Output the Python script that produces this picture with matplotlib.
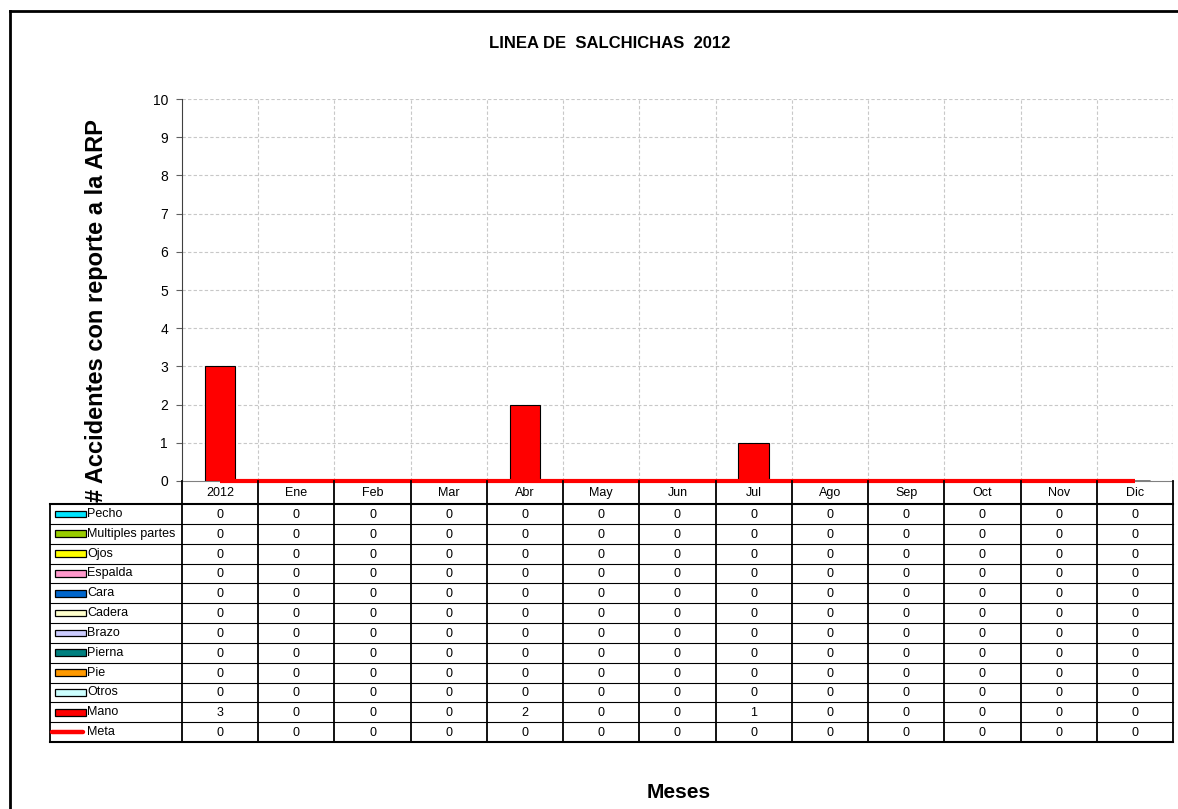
import matplotlib.pyplot as plt
from matplotlib.patches import Rectangle
from matplotlib.lines import Line2D

plt.rcParams['font.family'] = ['Liberation Sans', 'DejaVu Sans']

categories = ['2012', 'Ene', 'Feb', 'Mar', 'Abr', 'May', 'Jun', 'Jul', 'Ago', 'Sep', 'Oct', 'Nov', 'Dic']

pecho = [0] * 13
multiples_partes = [0] * 13
ojos = [0] * 13
espalda = [0] * 13
cara = [0] * 13
cadera = [0] * 13
brazo = [0] * 13
pierna = [0] * 13
pie = [0] * 13
otros = [0] * 13
mano = [3, 0, 0, 0, 2, 0, 0, 1, 0, 0, 0, 0, 0]
meta = [0] * 13

series_names = ['Pecho', 'Multiples partes', 'Ojos', 'Espalda', 'Cara', 'Cadera',
                'Brazo', 'Pierna', 'Pie', 'Otros', 'Mano']
series_values = [pecho, multiples_partes, ojos, espalda, cara, cadera,
                 brazo, pierna, pie, otros, mano]
series_colors = ['#00E5FF', '#99CC00', '#FFFF00', '#FF99CC', '#0066CC', '#FFFFCC',
                 '#CCCCFF', '#008080', '#FF9900', '#CCFFFF', '#FF0000']

W, H = 1178, 809
fig = plt.figure(figsize=(W / 100, H / 100), dpi=100)

# outer frame (open to right / bottom like the cropped sheet)
fig.add_artist(Line2D([10 / W, 1.01], [1 - 11 / H, 1 - 11 / H], color='black', lw=2.0,
                      transform=fig.transFigure))
fig.add_artist(Line2D([10 / W, 10 / W], [1 - 11 / H, -0.01], color='black', lw=2.0,
                      transform=fig.transFigure))

x0, x1 = 182, 1173
ax = fig.add_axes([x0 / W, 1 - 481 / H, (x1 - x0) / W, (481 - 99) / H])
n = len(categories)
xs = list(range(n))

bottom = [0] * n
for name, vals, col in zip(series_names, series_values, series_colors):
    ax.bar(xs, vals, width=0.4, bottom=bottom, color=col, edgecolor='black', lw=0.8, zorder=3)
    bottom = [b + v for b, v in zip(bottom, vals)]

ax.plot(xs, meta, color='#FF0000', lw=3.0, zorder=4, solid_capstyle='butt', clip_on=False)

ax.set_xlim(-0.5, n - 0.5)
ax.set_ylim(0, 10)
ax.set_yticks(range(0, 11))
ax.tick_params(axis='y', labelsize=10, length=4, color='#606060', pad=6)
ax.set_xticks([])
for x in [i + 0.5 for i in range(n)]:
    ax.axvline(x, color='#C8C8C8', lw=0.8, ls=(0, (3, 2)), zorder=1)
for y in range(1, 11):
    ax.axhline(y, color='#C8C8C8', lw=0.8, ls=(0, (3, 2)), zorder=1)
for s in ['top', 'right']:
    ax.spines[s].set_visible(False)
ax.spines['left'].set_color('#404040')
ax.spines['bottom'].set_color('#808080')

# data table below the plot
ty0, ty1 = 481, 742
tax = fig.add_axes([x0 / W, 1 - ty1 / H, (x1 - x0) / W, (ty1 - ty0) / H])
head_h = 1.16
nrows = len(series_names) + 1
tax.set_xlim(-0.5, n - 0.5)
tax.set_ylim(head_h + nrows, 0)
tax.axis('off')
cw = (x1 - x0) / n
xl = -0.5 - (x0 - 50) / cw

for i, c in enumerate(categories):
    tax.text(i, head_h / 2 + 0.05, c, ha='center', va='center', fontsize=9)
for i in range(n + 1):
    tax.plot([i - 0.5, i - 0.5], [0, head_h + nrows], color='black', lw=1.3, clip_on=False)
tax.plot([xl, xl], [head_h, head_h + nrows], color='black', lw=1.3, clip_on=False)
for r in range(nrows + 1):
    lw = 1.5 if r in (0, nrows) else 0.8
    tax.plot([xl, n - 0.5], [head_h + r, head_h + r], color='black', lw=lw, clip_on=False)

row_names = series_names + ['Meta']
row_values = series_values + [meta]
sw = 31 / cw
for r, (name, vals) in enumerate(zip(row_names, row_values)):
    yc = head_h + r + 0.5
    if name == 'Meta':
        tax.plot([xl + 0.02, xl + 0.02 + sw], [yc, yc], color='#FF0000', lw=3.2,
                 clip_on=False, solid_capstyle='round')
    else:
        tax.add_patch(Rectangle((xl + 0.07, yc - 0.17), sw, 0.34,
                                facecolor=series_colors[r], edgecolor='black', lw=0.9,
                                clip_on=False))
    tax.text(xl + 0.07 + sw + 0.01, yc, name, ha='left', va='center', fontsize=9,
             clip_on=False)
    for i, v in enumerate(vals):
        tax.text(i, yc + 0.05, str(v), ha='center', va='center', fontsize=9)

fig.text(610 / W, 1 - 43 / H, 'LINEA DE  SALCHICHAS  2012', ha='center', va='center',
         fontsize=12, fontweight='bold')
fig.text(97 / W, 1 - 311 / H, '# Accidentes con reporte a la ARP', ha='center', va='center',
         rotation=90, fontsize=17, fontweight='bold')
fig.text(679 / W, 1 - 792 / H, 'Meses', ha='center', va='center',
         fontsize=15, fontweight='bold')

fig.savefig('out.png', dpi=100, facecolor='white')
